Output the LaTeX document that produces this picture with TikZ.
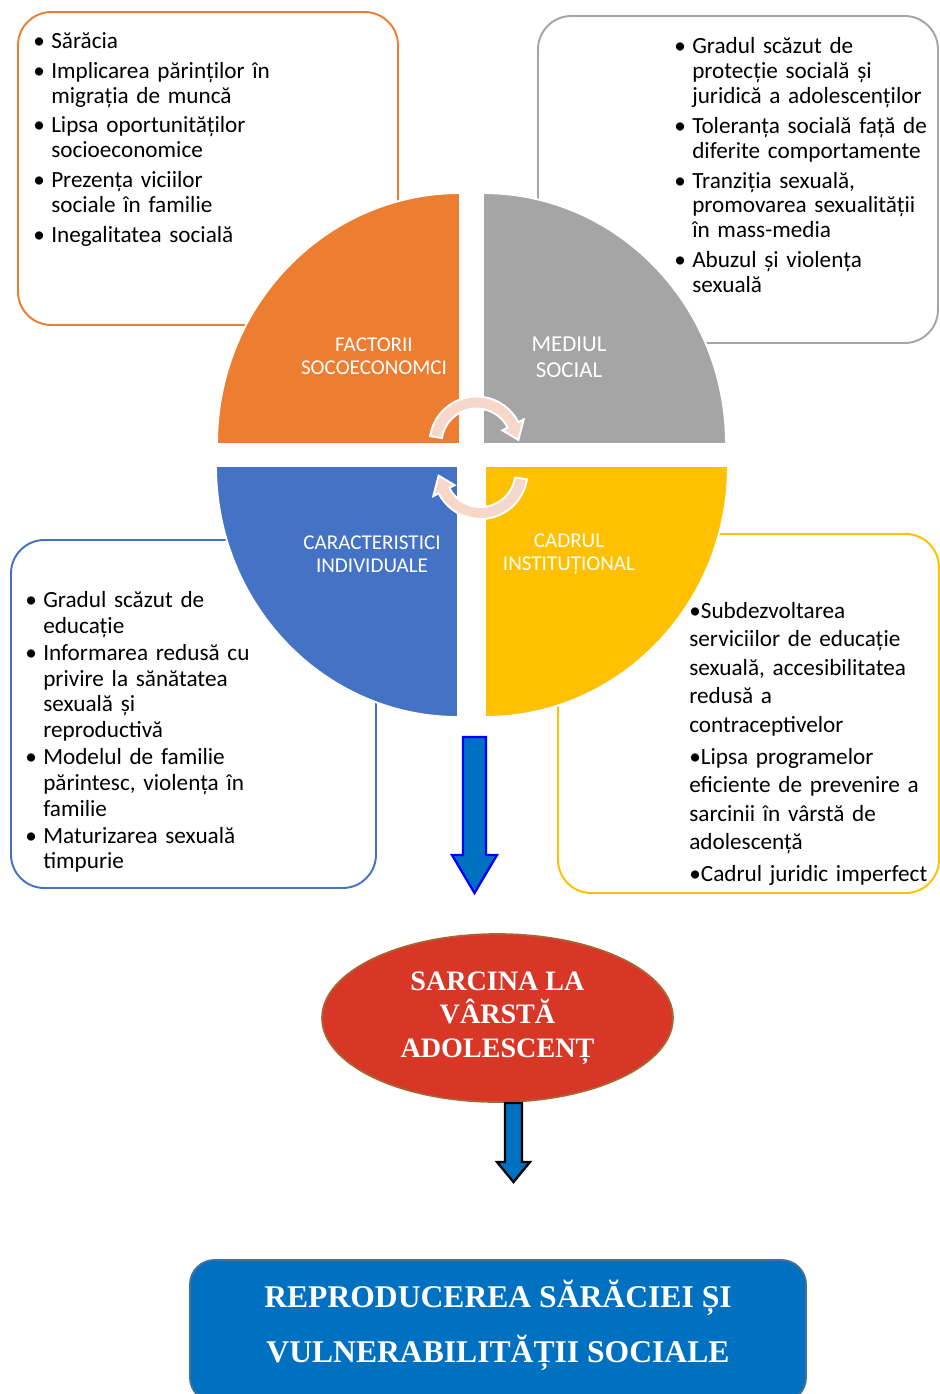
\documentclass[tikz,border=0pt]{standalone}
\usepackage{fontspec}
\setmainfont{Carlito}
\newfontfamily\timesfam{Liberation Serif}
\usetikzlibrary{shapes.geometric}

\definecolor{facorange}{HTML}{ED7D31}
\definecolor{medgray}{HTML}{A5A5A5}
\definecolor{indblue}{HTML}{4472C4}
\definecolor{instyellow}{HTML}{FFC000}
\definecolor{cyclepink}{RGB}{248,215,203}
\definecolor{arrowblue}{HTML}{0070C0}
\definecolor{sarcinared}{RGB}{216,54,38}
\definecolor{sarcinaedge}{RGB}{170,100,50}
\definecolor{reprodedge}{RGB}{65,113,156}

% bullet with hanging indent, and bullet glued to the text
\newcommand{\pitem}[1]{\hangindent=10.2pt\hangafter=1\noindent\makebox[10.2pt][l]{•}#1\par}
\newcommand{\ditem}[1]{\noindent•#1\par}

\tikzset{
  infobox/.style={rounded corners=19pt, line width=1.1pt, fill=white},
  quarter/.style={draw=white, line width=1.1pt},
  quadlabel/.style={text=white, align=center, font=\fontsize{12}{13}\selectfont},
  listtext/.style={anchor=north west, inner sep=0pt, align=left, text width=250pt},
  cyclearrow/.style={fill=cyclepink, draw=white, line width=1.1pt},
  blockarrow/.style={fill=arrowblue, line width=1.3pt, line join=miter}
}

\begin{document}
\begin{tikzpicture}[x=0.02cm, y=-0.02cm]
\useasboundingbox (0,0) rectangle (940,1394);
\clip (0,0) rectangle (940,1394);
\fill[white] (0,0) rectangle (940,1394);

% boxes with the lists
\draw[infobox, draw=facorange] (18,12) rectangle (398,325);
\draw[infobox, draw=medgray] (538,16) rectangle (938,343);
\draw[infobox, draw=indblue] (11,540) rectangle (376,888);
\draw[infobox, draw=instyellow] (558,534) rectangle (939,893);

% the four quarters
\filldraw[quarter, fill=facorange] (460,444) -- (217,444) arc[start angle=180, end angle=270, x radius=243, y radius=251] -- cycle;
\filldraw[quarter, fill=medgray] (483,444) -- (483,193) arc[start angle=270, end angle=360, x radius=243, y radius=251] -- cycle;
\filldraw[quarter, fill=indblue] (458,466) -- (458,717) arc[start angle=90, end angle=180, x radius=242, y radius=251] -- cycle;
\filldraw[quarter, fill=instyellow] (485,466) -- (728,466) arc[start angle=0, end angle=90, x radius=243, y radius=251] -- cycle;

% round arrows in the middle
\foreach \rot in {0,180}
  \filldraw[cyclearrow, rotate around={\rot:(478.5,457.75)}, shift={(476.5,443.5)}]
    (-171:47) arc[start angle=-171, end angle=-27, radius=47] -- (-27:53) -- (-5:42)
    -- (-27:29) -- (-27:35) arc[start angle=-27, end angle=-171, radius=35] -- cycle;

\node[quadlabel] (factori) at (374,356) {FACTORII\\SOCOECONOMCI};
\node[quadlabel, font=\fontsize{13}{14.7}\selectfont] (mediu) at (569,357) {MEDIUL\\SOCIAL};
\node[quadlabel] (caract) at (372,554) {CARACTERISTICI\\INDIVIDUALE};
\node[quadlabel] (cadru) at (569,554) {CADRUL\\INSTITUȚIONAL};

\node[listtext, font={\fontsize{13.2}{14.2}\selectfont\setlength{\parskip}{2.8pt}}] (listsocio) at (33,32) {%
\pitem{Sărăcia}
\pitem{Implicarea părinților în\newline migrația de muncă}
\pitem{Lipsa oportunităților\newline socioeconomice}
\pitem{Prezența viciilor\newline sociale în familie}
\pitem{Inegalitatea socială}};
\node[listtext, font={\fontsize{13.2}{14.2}\selectfont\setlength{\parskip}{2.8pt}}] (listmediu) at (674,37) {%
\pitem{Gradul scăzut de\newline protecție socială și\newline juridică a adolescenților}
\pitem{Toleranța socială față de\newline diferite comportamente}
\pitem{Tranziția sexuală,\newline promovarea sexualității\newline în mass-media}
\pitem{Abuzul și violența\newline sexuală}};
\node[listtext, font={\fontsize{13.2}{14.7}\selectfont\setlength{\parskip}{0.6pt}}] (listcaract) at (25,591) {%
\pitem{Gradul scăzut de\newline educație}
\pitem{Informarea redusă cu\newline privire la sănătatea\newline sexuală și\newline reproductivă}
\pitem{Modelul de familie\newline părintesc, violența în\newline familie}
\pitem{Maturizarea sexuală\newline timpurie}};
\node[listtext, font={\fontsize{13.2}{16.2}\selectfont\setlength{\parskip}{2pt}}] (listcadru) at (689,602) {%
\ditem{Subdezvoltarea\newline serviciilor de educație\newline sexuală, accesibilitatea\newline redusă a\newline contraceptivelor}
\ditem{Lipsa programelor\newline eficiente de prevenire a\newline sarcinii în vârstă de\newline adolescență}
\ditem{Cadrul juridic imperfect}};

% down to the result
\filldraw[blockarrow, draw=blue] (463,737) -- (486,737) -- (486,855) -- (497,855) -- (474.5,893)
  -- (452,855) -- (463,855) -- cycle;
\node[ellipse, fill=sarcinared, draw=sarcinaedge, line width=1pt, minimum width=7.02cm, minimum height=3.36cm,
  text=white, align=center, font=\timesfam\bfseries\fontsize{16}{19}\selectfont] (sarcina) at (497.5,1018)
  {SARCINA LA\\VÂRSTĂ\\ADOLESCENȚ};
\filldraw[blockarrow, draw=black] (505,1103) -- (522,1103) -- (522,1162) -- (530,1162) -- (513.5,1182)
  -- (497,1162) -- (505,1162) -- cycle;
\draw[fill=arrowblue, draw=reprodedge, line width=1.1pt, rounded corners=14pt] (190,1260) rectangle (806,1402);
\node[text=white, align=center, font=\timesfam\bfseries\fontsize{18}{31.2}\selectfont] (reprod) at (498,1325)
  {REPRODUCEREA SĂRĂCIEI ȘI\\VULNERABILITĂȚII SOCIALE};
\end{tikzpicture}
\end{document}
